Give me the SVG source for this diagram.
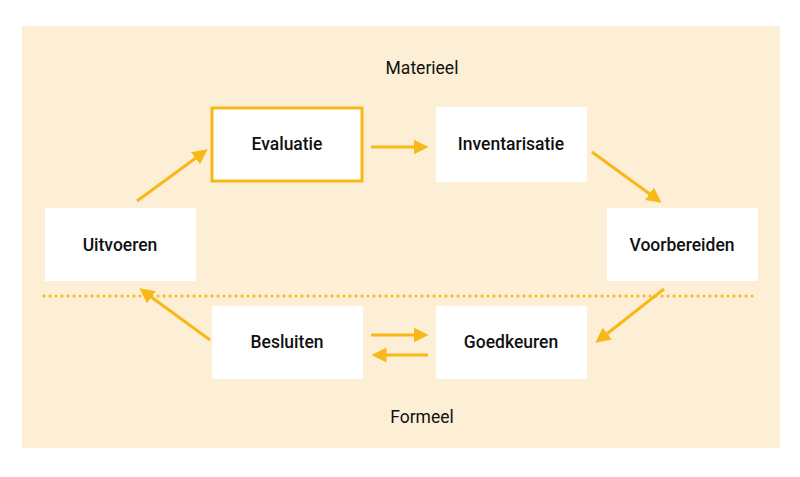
<svg xmlns="http://www.w3.org/2000/svg" width="800" height="477" viewBox="0 0 800 477">
<defs>
<style>
.bg{fill:#fdeed6}
.node{fill:#ffffff}
.hl{fill:#ffffff;stroke:#f8b818;stroke-width:3}
.lbl{font-family:Roboto,"Liberation Sans",sans-serif;font-weight:500;font-size:17.5px;fill:#111111;text-anchor:middle;dominant-baseline:central}
.cap{font-family:Roboto,"Liberation Sans",sans-serif;font-weight:400;font-size:17.5px;fill:#111111;text-anchor:middle;dominant-baseline:central}
.conn{stroke:#f8b818;stroke-width:3;fill:none;marker-end:url(#ah)}
.dots{stroke:#f8b818;stroke-width:3;stroke-dasharray:0 6;stroke-linecap:round;fill:none}
</style>
<marker id="ah" viewBox="0 0 10 10" refX="7" refY="5" markerWidth="5" markerHeight="5" orient="auto" markerUnits="strokeWidth">
<path d="M0,0 L10,5 L0,10 z" fill="#f8b818"/>
</marker>
</defs>
<rect class="bg" x="22" y="26" width="758" height="422"/>
<text class="cap" x="422" y="68">Materieel</text>
<text class="cap" x="422" y="417">Formeel</text>
<g id="connectors">
<line class="dots" x1="44" y1="296" x2="758" y2="296"/>
<line class="conn" x1="137" y1="201" x2="204" y2="152"/>
<line class="conn" x1="371" y1="147" x2="424" y2="147"/>
<line class="conn" x1="592" y1="152" x2="658" y2="200"/>
<line class="conn" x1="664" y1="289" x2="599" y2="340"/>
<line class="conn" x1="210" y1="340" x2="143" y2="291"/>
<line class="conn" x1="371" y1="335" x2="424" y2="335"/>
<line class="conn" x1="428" y1="355" x2="376" y2="355"/>
</g>
<g id="evaluatie"><rect class="hl" x="212" y="108" width="150" height="73"/><text class="lbl" x="287" y="144">Evaluatie</text></g>
<g id="inventarisatie"><rect class="node" x="436" y="107" width="151" height="75"/><text class="lbl" x="511" y="144">Inventarisatie</text></g>
<g id="uitvoeren"><rect class="node" x="45" y="208" width="151" height="73"/><text class="lbl" x="120" y="245">Uitvoeren</text></g>
<g id="voorbereiden"><rect class="node" x="607" y="208" width="151" height="73"/><text class="lbl" x="682" y="245">Voorbereiden</text></g>
<g id="besluiten"><rect class="node" x="212" y="306" width="151" height="73"/><text class="lbl" x="287" y="342">Besluiten</text></g>
<g id="goedkeuren"><rect class="node" x="436" y="306" width="151" height="73"/><text class="lbl" x="511" y="342">Goedkeuren</text></g>
</svg>
